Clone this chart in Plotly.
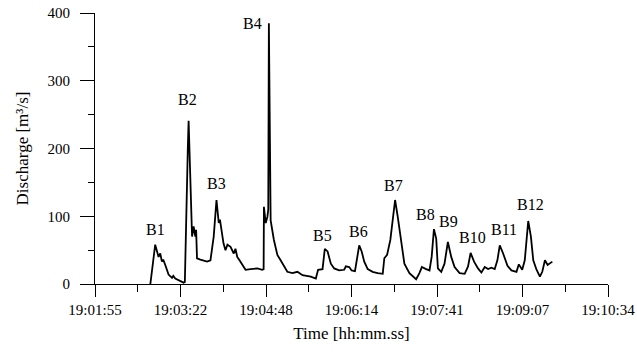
import plotly.graph_objects as go

# time in seconds after 19:01:55, discharge in m3/s
t_sec = [56, 57.9, 60.9, 64.3, 66, 67.7, 69, 71.1, 74.4, 77.9, 79.2, 81.2, 84.3, 88, 89.6, 90.9,
         92.4, 93.9, 94.7, 95.6, 96.5, 97.5, 98.2, 99.8, 100.5, 101.5, 102.3, 103.2, 106.6, 113.4,
         116.8, 120.1, 122.9, 125.2, 126.4, 128.6, 130, 132, 134, 137.1, 139, 140.4, 142.1, 143.9,
         146.2, 148.9, 152.3, 157.4, 164.2, 169.2, 170.6, 170.9, 172.2, 172.7, 174.4, 175.3, 175.9,
         176.7, 177.7, 181, 184.5, 187.8, 191.2, 194.6, 199.7, 204.8, 209.9, 218.3, 223.4, 225.7,
         230.2, 232.5, 235.3, 238.6, 242, 247, 252.1, 253.8, 257.2, 259.6, 263, 265.7, 267.3, 269.8,
         272.4, 275.9, 280.9, 286, 291.1, 292.7, 295.5, 298.8, 303.6, 306.3, 309.7, 313, 318.1,
         324.9, 328.2, 330.7, 335, 338.4, 340.6, 342.9, 345.2, 346.9, 350.3, 353.6, 357, 360.4,
         363.8, 368.9, 374, 377.4, 380, 383.5, 387.5, 390.9, 394.3, 397.7, 401, 404.4, 407.1, 409.5,
         412.9, 417.3, 421.3, 426.4, 428.8, 432.2, 434.8, 438.3, 441, 443.4, 446.7, 450.1, 452.5,
         455.2, 457.9, 460.2, 462.7]
discharge = [0, 25, 58, 40, 45, 33, 36, 28, 14, 9, 12, 8, 6, 4, 2, 3,
             130, 200, 241, 190, 139, 120, 70, 85, 75, 70, 80, 38, 36, 33,
             35, 70, 124, 90, 95, 70, 60, 50, 58, 55, 48, 45, 52, 40,
             35, 28, 21, 22, 23, 21, 22, 114, 95, 90, 99, 110, 385,
             200, 94, 65, 43, 35, 26, 18, 16, 18, 13, 11, 8, 21,
             22, 52, 48, 30, 23, 20, 21, 26, 25, 20, 19, 44, 57, 48,
             33, 22, 18, 16, 15, 38, 43, 65, 124, 99, 60, 30, 16,
             7, 16, 25, 22, 20, 40, 81, 67, 23, 18, 30, 62, 40,
             25, 16, 15, 26, 46, 33, 23, 17, 25, 22, 24, 22, 35, 57,
             45, 27, 20, 18, 29, 21, 35, 93, 70, 35, 21, 11, 18,
             35, 28, 30, 33]

tick_sec = [0, 86.5, 173, 259.5, 346, 432.5, 519]
tick_text = ["19:01:55", "19:03:22", "19:04:48", "19:06:14", "19:07:41", "19:09:07", "19:10:34"]

peak_names = ["B1", "B2", "B3", "B4", "B5", "B6", "B7", "B8", "B9", "B10", "B11", "B12"]
peak_label_t = [60.9, 93.4, 122.9, 159.4, 230.5, 267, 301.5, 334, 357.4, 381.7, 414.2, 440.6]
peak_label_q = [80, 272, 148, 384, 72, 78, 145, 102, 92, 68, 80, 118]

serif = "Liberation Serif, Times New Roman, serif"

fig = go.Figure()
fig.add_trace(go.Scatter(x=t_sec, y=discharge, mode="lines",
                         line=dict(color="black", width=1.8), showlegend=False))

for name, tx, qy in zip(peak_names, peak_label_t, peak_label_q):
    fig.add_annotation(x=tx, y=qy, text=name, showarrow=False,
                       font=dict(family=serif, size=16, color="black"))

fig.update_layout(
    width=637, height=356,
    margin=dict(l=95, r=29, t=13, b=72),
    paper_bgcolor="white", plot_bgcolor="white",
    font=dict(family=serif, size=15, color="black"),
)
fig.update_xaxes(
    range=[0, 519], tickvals=tick_sec, ticktext=tick_text, automargin=False,
    showgrid=False, zeroline=False, showline=True, linecolor="black", linewidth=1,
    ticks="outside", ticklen=12, tickcolor="black", tickwidth=1, ticklabelstandoff=0,
    minor=dict(ticks="outside", ticklen=7, tickcolor="black", dtick=43.25, tick0=0),
    title=dict(text="Time [hh:mm.ss]", font=dict(family=serif, size=17), standoff=10),
    tickfont=dict(family=serif, size=15),
)
fig.update_yaxes(
    range=[0, 400], tickvals=[0, 100, 200, 300, 400], automargin=False,
    showgrid=False, zeroline=False, showline=True, linecolor="black", linewidth=1,
    ticks="outside", ticklen=14, tickcolor="black", tickwidth=1, ticklabelstandoff=7,
    minor=dict(ticks="outside", ticklen=6, tickcolor="black", dtick=50),
    title=dict(text="Discharge [m³/s]", font=dict(family=serif, size=17), standoff=14),
    tickfont=dict(family=serif, size=15),
)

fig.write_html("out.html", config={"displayModeBar": False},
               post_script="document.body.style.margin='0px';")
